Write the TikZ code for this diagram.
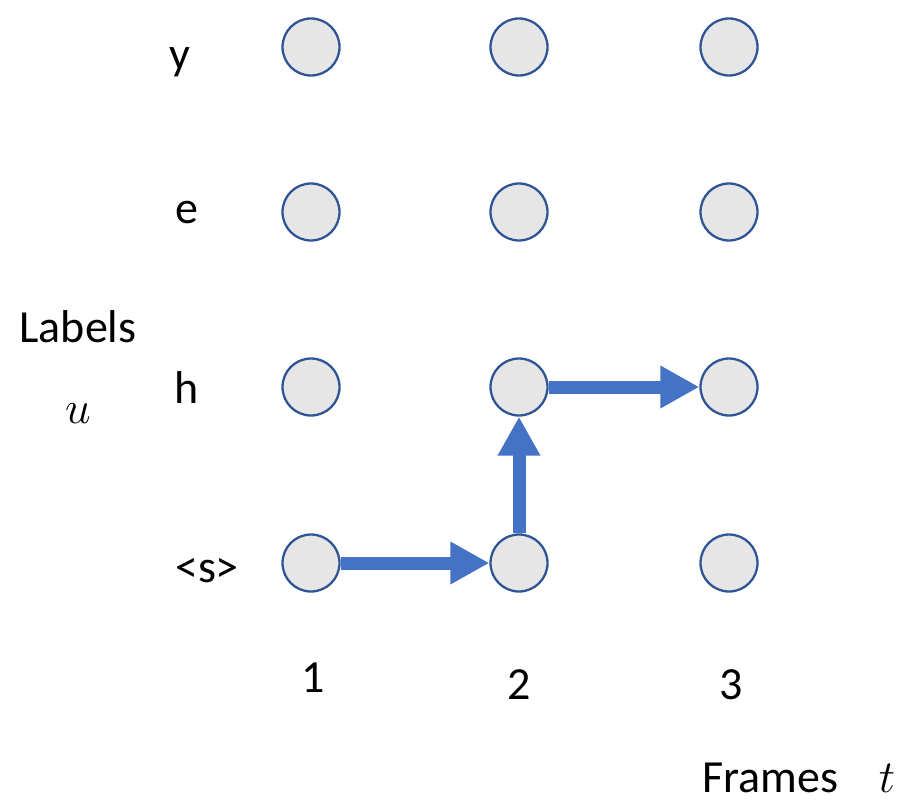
\RequirePackage{fix-cm}
\documentclass[tikz,border=0pt]{standalone}
\usepackage{fontspec}
\setmainfont{Carlito}
\usetikzlibrary{arrows.meta,positioning}
\definecolor{ptfill}{HTML}{E7E6E6}
\definecolor{ptline}{HTML}{2F5597}
\definecolor{pathblue}{HTML}{4472C4}
\tikzset{
  lattice/point/.style={draw=ptline, fill=ptfill, circle, line width=2.3pt, minimum size=57pt, inner sep=0pt},
  lattice/text/.style={font=\fontsize{46}{52}\selectfont, anchor=base, inner sep=0pt},
  lattice/move/.style={draw=pathblue, line width=13pt, -{Triangle[length=39pt,width=40pt]}}
}
\begin{document}
\begin{tikzpicture}[x=1pt, y=-1pt]
\useasboundingbox (0,0) rectangle (902,802);

% grid of points: column = frame, row = label
\foreach \col/\x in {1/311,2/519,3/729}
  \foreach \row/\y in {1/563,2/387,3/212,4/47}
    \node[lattice/point] (c-\col-\row) at (\x,\y) {};

% label names
\node[lattice/text] (lab-y) at (180,70) {y};
\node[lattice/text] (lab-e) at (187,224) {e};
\node[lattice/text] (lab-h) at (187,403) {h};
\node[lattice/text] (lab-s) at (207,582) {<s>};
\node[lattice/text] (labels) at (78,342) {Labels};
\node[lattice/text] (lab-u) at (78,423) {$u$};

% frame numbers
\node[lattice/text] (fr-1) at (313,692) {1};
\node[lattice/text] (fr-2) at (519,699) {2};
\node[lattice/text] (fr-3) at (731,699) {3};
\node[lattice/text] (frames) at (770,792) {Frames};
\node[lattice/text] (fr-t) at (887,792) {$t$};

% alignment path
\draw[lattice/move] (c-1-1.east) -- (c-2-1.west);
\draw[lattice/move] (c-2-1.north) -- (c-2-2.south);
\draw[lattice/move] (c-2-2.east) -- (c-3-2.west);

\end{tikzpicture}
\end{document}
